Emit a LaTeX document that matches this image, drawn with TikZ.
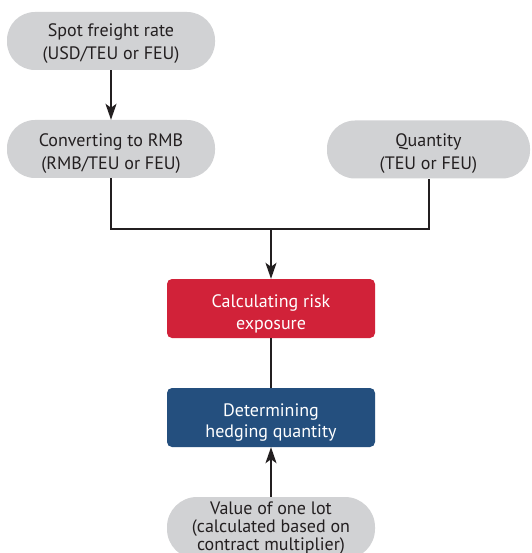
\documentclass[tikz,border=0pt]{standalone}
\usepackage{fontspec}
\setmainfont{PT Sans}
\usetikzlibrary{arrows.meta}
\definecolor{pillgray}{HTML}{D1D2D4}
\definecolor{riskred}{HTML}{D12239}
\definecolor{hedgeblue}{HTML}{244F7E}
\definecolor{ink}{HTML}{231F20}
% invisible struts that fix the height of the first line and the depth of the last one
\newcommand\padup[1]{\rule{0pt}{#1pt}}
\newcommand\paddown{\rule[-6pt]{0pt}{6pt}}
\tikzset{
  pill/.style={fill=pillgray, text=ink, rounded corners=28pt, minimum width=208pt,
    minimum height=58pt, align=center, inner sep=0pt},
  stepbox/.style={text=white, rounded corners=5pt, minimum width=208pt,
    minimum height=59pt, align=center, inner sep=0pt},
  lines/.style={font=\fontsize{18}{#1}\selectfont},
  link/.style={draw=ink, line width=2pt},
  flow/.style={link, -{Stealth[length=16pt, width=11pt, inset=4pt]}}
}
\begin{document}
\begin{tikzpicture}[x=1pt, y=-1pt]
  \clip (0,0) rectangle (531,553);
  \fill[white] (0,0) rectangle (531,553);

  \node[pill, lines=23] (spot) at (111,41)
    {\padup{21}Spot freight rate\\(USD/TEU or FEU)\paddown};
  \node[pill, lines=23] (conv) at (111,149)
    {\padup{25}Converting to RMB\\(RMB/TEU or FEU)\paddown};
  \node[pill, lines=23, minimum width=203pt] (qty) at (428.5,149.5)
    {\padup{24}Quantity\\(TEU or FEU)\paddown};
  \node[stepbox, lines=22, fill=riskred] (risk) at (271,308.5)
    {\padup{25}Calculating risk\\exposure\paddown};
  \node[stepbox, lines=21, fill=hedgeblue] (hedge) at (271,417.5)
    {\padup{24}Determining\\hedging quantity\paddown};
  \node[pill, lines=18, minimum height=62pt, rounded corners=30pt] (lot) at (271,528)
    {\padup{14}Value of one lot\\(calculated based on\\contract multiplier)\paddown};

  \coordinate (join) at (271,229);

  \draw[flow] (spot) -- (conv);
  \draw[link] (conv.south) |- (join) -| (qty.south);
  \draw[flow] (join) -- (risk.north);
  \draw[link] (risk) -- (hedge);
  \draw[flow] (lot) -- (hedge);
\end{tikzpicture}
\end{document}
